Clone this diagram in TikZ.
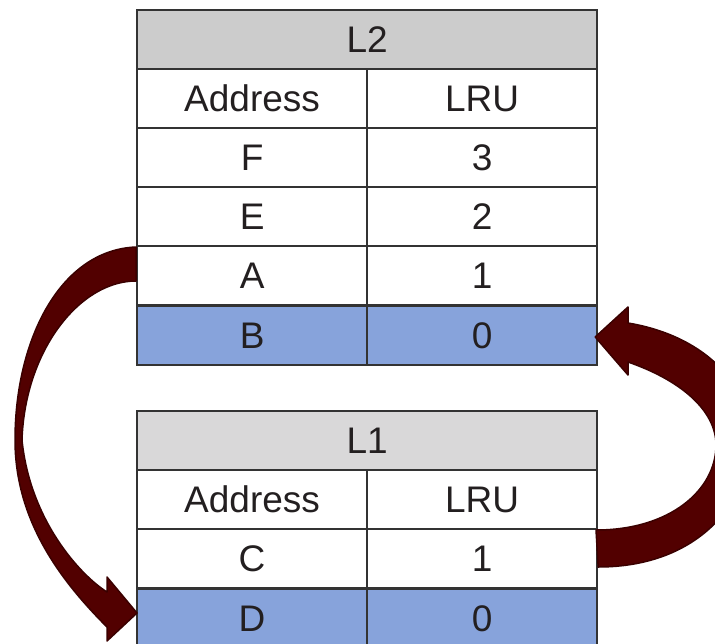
\documentclass[tikz,border=0pt]{standalone}
\usepackage{fontspec}
\setmainfont{Liberation Sans}
\usetikzlibrary{calc}
\definecolor{hdrA}{HTML}{CCCCCC}
\definecolor{hdrB}{HTML}{D9D8D9}
\definecolor{blueCell}{HTML}{87A3DB}
\definecolor{gridc}{HTML}{333333}
\definecolor{txtc}{HTML}{231F20}
\definecolor{arrowFill}{HTML}{520000}
\definecolor{arrowEdge}{HTML}{3A0000}
\begin{document}
\begin{tikzpicture}[x=1pt,y=-1pt,
  cell/.style={draw=gridc,line width=2.2pt,minimum height=59pt,inner sep=0pt,anchor=north west,font=\fontsize{37}{42}\selectfont,text=txtc},
  wide/.style={cell,minimum width=460pt},
  narrow/.style={cell,minimum width=230pt},
  bigarrow/.style={fill=arrowFill,draw=arrowEdge,line width=1.5pt,line join=round}]
\useasboundingbox (0,0) rectangle (715,643);
\clip (0,0) rectangle (715,643);
% L2 table
\node[wide,fill=hdrA] (L2h) at (136,9) {L2};
\node[narrow] (L2a) at (136,68) {Address};
\node[narrow] (L2b) at (366,68) {LRU};
\node[narrow] (L2Fa) at (136,127) {F};
\node[narrow] (L2Fb) at (366,127) {3};
\node[narrow] (L2Ea) at (136,186) {E};
\node[narrow] (L2Eb) at (366,186) {2};
\node[narrow] (L2Aa) at (136,245) {A};
\node[narrow] (L2Ab) at (366,245) {1};
\node[narrow,fill=blueCell] (L2Ba) at (136,305) {B};
\node[narrow,fill=blueCell] (L2Bb) at (366,305) {0};
% L1 table
\node[wide,fill=hdrB] (L1h) at (136,410) {L1};
\node[narrow] (L1a) at (136,469) {Address};
\node[narrow] (L1b) at (366,469) {LRU};
\node[narrow] (L1Ca) at (136,528) {C};
\node[narrow] (L1Cb) at (366,528) {1};
\node[narrow,fill=blueCell] (L1Da) at (136,588) {D};
\node[narrow,fill=blueCell] (L1Db) at (366,588) {0};
% arrow anchors
\coordinate (s1) at ($(L2Aa.north west)+(0,2)$);
\coordinate (t1) at ($(L1Da.north west)+(1,25)$);
\coordinate (s2) at ($(L1Cb.north east)+(0,39)$);
\coordinate (t2) at ($(L2Bb.north east)+(-3,32)$);
% left arrow: A (L2) -> D (L1)
\draw[bigarrow] (s1) .. controls (60,250) and (15,340) .. (15,440)
  .. controls (15,520) and (60,580) .. (107,627) -- (107,641) -- (t1)
  -- (107,577) -- (107,592) .. controls (80,575) and (30,520) .. (22,440)
  .. controls (25,350) and (80,281) .. (136,281) -- cycle;
% right arrow: C (L1) -> B (L2)
\draw[bigarrow] (s2) .. controls (700,567) and (750,500) .. (750,440)
  .. controls (750,380) and (700,335) .. (628,323) -- (628,307) -- (t2)
  -- (628,375) -- (628,362) .. controls (680,380) and (716,410) .. (716,445)
  .. controls (716,490) and (670,530) .. (596,530) -- cycle;
\end{tikzpicture}
\end{document}
